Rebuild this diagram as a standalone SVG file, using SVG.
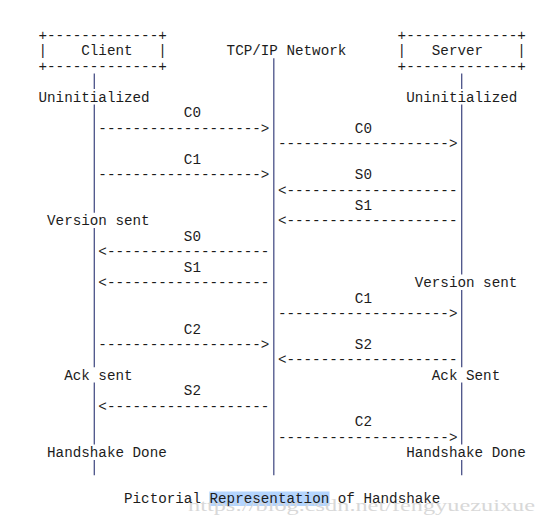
<svg xmlns="http://www.w3.org/2000/svg" width="549" height="526" viewBox="0 0 549 526">
<style>
  .t { font-family: "Liberation Mono", "Courier New", monospace; font-size: 14.25px; fill: #1c1c1c; white-space: pre; }
  .life { stroke: #4b5288; stroke-width: 1.3; fill: none; }
  .wm { font-family: "Liberation Serif", "DejaVu Serif", serif; font-size: 17px; fill: #d8d8d8; }
</style>
<rect width="549" height="526" fill="#ffffff"/>

<g id="connectors">
  <path class="life" d="M94.3 73.6V89.1M94.3 104.5V212.7M94.3 228.1V367.2M94.3 382.6V444.4M94.3 459.9V475.3"/>
  <path class="life" d="M273.8 58.2V475.3"/>
  <path class="life" d="M461.7 73.6V89.1M461.7 104.5V274.5M461.7 289.9V367.2M461.7 382.6V444.4M461.7 459.9V475.3"/>
</g>

<g id="client" class="t">
  <text x="38.5" y="40">+-------------+</text>
  <text x="38.5" y="55.45" xml:space="preserve">|    Client   |</text>
  <text x="38.5" y="70.9">+-------------+</text>
</g>

<g id="network" class="t">
  <text x="226.6" y="55.45" xml:space="preserve">TCP/IP Network</text>
</g>

<g id="server" class="t">
  <text x="397.6" y="40">+-------------+</text>
  <text x="397.6" y="55.45" xml:space="preserve">|   Server    |</text>
  <text x="397.6" y="70.9">+-------------+</text>
</g>

<g id="states" class="t">
  <text x="38.5" y="101.8">Uninitialized</text>
  <text x="406.15" y="101.8">Uninitialized</text>
  <text x="47.05" y="225.4">Version sent</text>
  <text x="414.7" y="287.2">Version sent</text>
  <text x="64.15" y="379.9">Ack sent</text>
  <text x="431.8" y="379.9">Ack Sent</text>
  <text x="47.05" y="457.15">Handshake Done</text>
  <text x="406.15" y="457.15">Handshake Done</text>
</g>

<g id="messages" class="t">
  <text x="183.85" y="117.25">C0</text>
  <text x="98.35" y="132.7">-------------------&gt;</text>
  <text x="354.85" y="132.7">C0</text>
  <text x="277.9" y="148.15">--------------------&gt;</text>

  <text x="183.85" y="163.6">C1</text>
  <text x="98.35" y="179.05">-------------------&gt;</text>
  <text x="354.85" y="179.05">S0</text>
  <text x="277.9" y="194.5">&lt;--------------------</text>
  <text x="354.85" y="209.95">S1</text>
  <text x="277.9" y="225.4">&lt;--------------------</text>

  <text x="183.85" y="240.85">S0</text>
  <text x="98.35" y="256.3">&lt;-------------------</text>
  <text x="183.85" y="271.75">S1</text>
  <text x="98.35" y="287.2">&lt;-------------------</text>

  <text x="354.85" y="302.65">C1</text>
  <text x="277.9" y="318.1">--------------------&gt;</text>
  <text x="183.85" y="333.55">C2</text>
  <text x="98.35" y="349">-------------------&gt;</text>
  <text x="354.85" y="349">S2</text>
  <text x="277.9" y="364.45">&lt;--------------------</text>

  <text x="183.85" y="395.35">S2</text>
  <text x="98.35" y="410.8">&lt;-------------------</text>
  <text x="354.85" y="426.25">C2</text>
  <text x="277.9" y="441.7">--------------------&gt;</text>
</g>

<g id="caption">
  <rect x="209.3" y="491.5" width="120.2" height="14.5" fill="#b4d5fe"/>
  <text class="wm" x="188" y="511" textLength="347" lengthAdjust="spacingAndGlyphs">https://blog.csdn.net/fengyuezuixue</text>
  <text class="t" x="124" y="502.5" xml:space="preserve">Pictorial Representation of Handshake</text>
</g>
</svg>
